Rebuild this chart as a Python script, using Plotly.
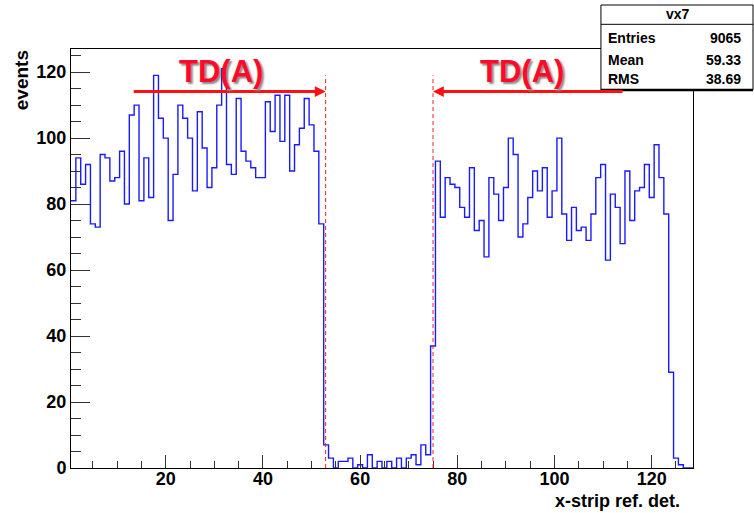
import plotly.graph_objects as go

# Histogram vx7: counts per x-strip of the reference detector (bins 1..128)
counts = [
    81, 94, 86, 92, 74, 73, 95, 94, 87, 88,
    96, 80, 107, 110, 81, 94, 82, 119, 106, 100,
    75, 89, 110, 106, 100, 84, 108, 97, 85, 91,
    110, 121, 92, 89, 112, 96, 93, 91, 88, 88,
    111, 102, 113, 99, 113, 90, 98, 103, 112, 104,
    96, 74, 7, 3, 0, 2, 2, 3, 0, 1,
    0, 4, 0, 2, 0, 2, 0, 3, 0, 3,
    4, 1, 7, 4, 37, 93, 76, 88, 86, 85,
    79, 76, 91, 72, 75, 64, 88, 83, 75, 85,
    100, 95, 70, 74, 82, 90, 84, 91, 76, 84,
    100, 77, 69, 79, 72, 73, 69, 77, 88, 92,
    63, 83, 79, 68, 90, 75, 84, 85, 92, 82,
    98, 88, 77, 29, 3, 1, 0, 0,
]
x_low = 0.5
bin_width = 1.0
y_max = 127

# Statistics box
hist_name = "vx7"
stat_labels = ["Entries", "Mean", "RMS"]
stat_values = ["9065", "59.33", "38.69"]

# Dead region boundaries and arrow annotations
region_edges = [52.9, 75.0]
region_line_top = 119
arrow_y = 114.1
left_arrow = (13.1, 52.9)     # tail, head
right_arrow = (114.3, 75.0)   # tail, head
label_text = "TD(A)"
label_x = [31.4, 93.4]
label_y = 120.3

FONT = "Liberation Sans, Arial, Helvetica, sans-serif"

edges = [x_low + i * bin_width for i in range(len(counts) + 1)]
step_y = counts + [counts[-1]]

fig = go.Figure()
fig.add_trace(go.Scatter(
    x=edges, y=step_y, mode="lines", line_shape="hv",
    line=dict(color="#1a1aff", width=1.4),
    hoverinfo="skip", showlegend=False,
))

shapes = []
for xe in region_edges:
    shapes.append(dict(
        type="line", xref="x", yref="y", x0=xe, x1=xe, y0=0, y1=region_line_top,
        line=dict(color="#ff2020", width=1, dash="4px,3px"), layer="above",
    ))

# Statistics box (paper coordinates)
bx0, bx1, by0, by1 = 0.852, 1.0965, 0.902, 1.105
shapes.append(dict(type="rect", xref="paper", yref="paper", x0=bx0, x1=bx1, y0=by0, y1=by1,
                   fillcolor="white", line=dict(color="black", width=1), layer="above"))
shapes.append(dict(type="line", xref="paper", yref="paper", x0=bx0, x1=bx1, y0=by0, y1=by0,
                   line=dict(color="black", width=2.5), layer="above"))
shapes.append(dict(type="line", xref="paper", yref="paper", x0=bx0, x1=bx1, y0=1.0589, y1=1.0589,
                   line=dict(color="black", width=1), layer="above"))

annotations = []
annotations.append(dict(text=hist_name, xref="paper", yref="paper", x=0.9759, y=1.0835,
                        showarrow=False, xanchor="center", yanchor="middle",
                        font=dict(family=FONT, size=14, color="black", weight="bold")))
row_y = [1.0263, 0.9730, 0.9277]
for lab, val, ry in zip(stat_labels, stat_values, row_y):
    annotations.append(dict(text=lab, xref="paper", yref="paper", x=0.8601, y=ry,
                            showarrow=False, xanchor="left", yanchor="middle",
                            font=dict(family=FONT, size=14, color="black", weight="bold")))
    annotations.append(dict(text=val, xref="paper", yref="paper", x=1.0804, y=ry,
                            showarrow=False, xanchor="right", yanchor="middle",
                            font=dict(family=FONT, size=14, color="black", weight="bold")))

# Arrows marking the TD(A) coverage
for tail, head in (left_arrow, right_arrow):
    annotations.append(dict(
        x=head, y=arrow_y, ax=tail, ay=arrow_y, xref="x", yref="y", axref="x", ayref="y",
        text="", showarrow=True, arrowhead=2, arrowsize=0.72, arrowwidth=3,
        arrowcolor="#ff1010", standoff=0, startstandoff=0,
    ))
for lx in label_x:
    annotations.append(dict(
        text=label_text, x=lx, y=label_y, xref="x", yref="y", showarrow=False,
        xanchor="center", yanchor="middle",
        font=dict(family=FONT, size=31, color="#ff0a2a", weight="bold",
                  shadow="2px 2px 2px #888888"),
    ))

# Axis titles
annotations.append(dict(text="events", xref="paper", yref="paper", x=-0.080, y=0.926,
                        textangle=-90, showarrow=False, xanchor="center", yanchor="middle",
                        font=dict(family=FONT, size=19, color="black", weight="bold")))
annotations.append(dict(text="x-strip ref. det.", xref="paper", yref="paper", x=0.878, y=-0.078,
                        showarrow=False, xanchor="center", yanchor="middle",
                        font=dict(family=FONT, size=18, color="black", weight="bold")))

axis_common = dict(
    showgrid=False, zeroline=False, showline=True, linecolor="black", linewidth=1,
    mirror=True, ticks="inside", tickcolor="#333333", tickwidth=1,
    tickfont=dict(family=FONT, size=18, color="black", weight="bold"),
)
fig.update_layout(
    width=754, height=513, autosize=False,
    margin=dict(l=71, r=61, t=49, b=45, pad=0),
    paper_bgcolor="white", plot_bgcolor="white",
    xaxis=dict(range=[x_low, x_low + bin_width * len(counts)], tick0=0, dtick=20, ticklen=13,
               ticklabelstandoff=-6,
               minor=dict(dtick=5, tick0=0, ticks="inside", ticklen=7, tickcolor="#333333"),
               **axis_common),
    yaxis=dict(range=[0, y_max], tick0=0, dtick=20, ticklen=19,
               minor=dict(dtick=5, tick0=0, ticks="inside", ticklen=10, tickcolor="#333333"),
               **axis_common),
    shapes=shapes, annotations=annotations, showlegend=False,
)

fig.write_html("out.html")
